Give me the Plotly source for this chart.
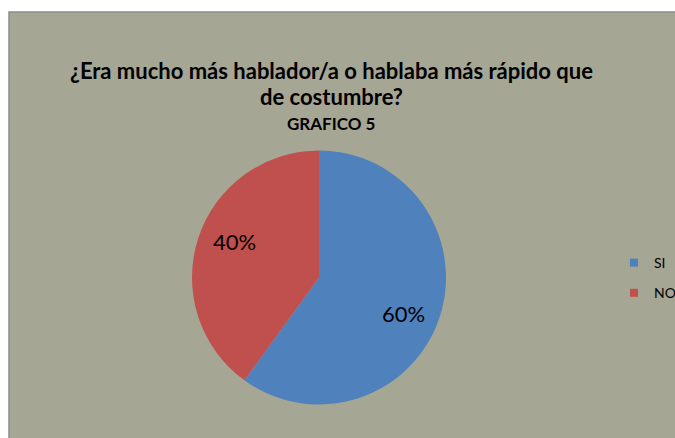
import math
import plotly.graph_objects as go

# Survey answers and their shares
categories = ["SI", "NO"]
shares = [60, 40]
colors = ["#4F81BD", "#C0504D"]

title_line1 = "¿Era mucho más hablador/a o hablaba más rápido que"
title_line2 = "de costumbre?"
subtitle = "GRAFICO 5"

W, H = 675, 438
FONT = "Lato, 'Open Sans', sans-serif"

# Pie placement (pixels)
PIE_X0, PIE_X1 = 192, 446
PIE_Y0, PIE_Y1 = 150, 405
CX, CY = (PIE_X0 + PIE_X1) / 2, (PIE_Y0 + PIE_Y1) / 2
R = min(PIE_X1 - PIE_X0, PIE_Y1 - PIE_Y0) / 2
LABEL_RADIUS = 0.725
LABEL_ANGLE_SHIFT = math.radians(5)

fig = go.Figure()

fig.add_trace(go.Pie(
    labels=categories,
    values=shares,
    sort=False,
    direction="clockwise",
    rotation=0,
    marker=dict(colors=colors, line=dict(width=0)),
    textinfo="none",
    hoverinfo="label+percent",
    domain=dict(x=[PIE_X0 / W, PIE_X1 / W], y=[1 - PIE_Y1 / H, 1 - PIE_Y0 / H]),
    showlegend=False,
))

# Legend entries as square markers, one group each so they can be spaced apart
for cat, col in zip(categories, colors):
    fig.add_trace(go.Scatter(
        x=[None], y=[None], mode="markers", name=cat,
        marker=dict(symbol="square", size=8, color=col),
        legendgroup=cat, showlegend=True,
    ))

# Percentage labels placed along each slice's mid angle
annotations = []
total = sum(shares)
start = 0.0
for val in shares:
    frac = val / total
    mid = (start + frac / 2) * 2 * math.pi + LABEL_ANGLE_SHIFT
    px = CX + LABEL_RADIUS * R * math.sin(mid)
    py = CY - LABEL_RADIUS * R * math.cos(mid)
    annotations.append(dict(
        text=f"{round(frac * 100)}%", x=px / W, y=1 - py / H,
        xref="paper", yref="paper", showarrow=False,
        xanchor="center", yanchor="middle",
        font=dict(family=FONT, size=22, color="#000000"),
    ))
    start += frac

annotations += [
    dict(text=f"<b>{title_line1}</b>", x=331 / W, y=1 - 70 / H,
         xref="paper", yref="paper", showarrow=False,
         xanchor="center", yanchor="middle",
         font=dict(family=FONT, size=22, color="#000000")),
    dict(text=f"<b>{title_line2}</b>", x=331 / W, y=1 - 97 / H,
         xref="paper", yref="paper", showarrow=False,
         xanchor="center", yanchor="middle",
         font=dict(family=FONT, size=22, color="#000000")),
    dict(text=f"<b>{subtitle}</b>", x=331 / W, y=1 - 123 / H,
         xref="paper", yref="paper", showarrow=False,
         xanchor="center", yanchor="middle",
         font=dict(family=FONT, size=17, color="#000000")),
]

fig.update_layout(
    width=W,
    height=H,
    margin=dict(l=0, r=0, t=0, b=0, autoexpand=False),
    paper_bgcolor="#FFFFFF",
    plot_bgcolor="rgba(0,0,0,0)",
    xaxis=dict(visible=False),
    yaxis=dict(visible=False),
    shapes=[dict(
        type="rect", xref="paper", yref="paper",
        x0=9 / W, x1=1.02, y0=-0.02, y1=1 - 12 / H,
        fillcolor="#A6A695", line=dict(color="#8C8C8C", width=1.5),
        layer="below",
    )],
    annotations=annotations,
    legend=dict(
        x=614 / W, y=1 - 247 / H, xanchor="left", yanchor="top",
        bgcolor="rgba(0,0,0,0)",
        font=dict(family=FONT, size=14, color="#000000"),
        traceorder="grouped", tracegroupgap=9, itemclick=False,
    ),
)

fig.write_html("out.html")
